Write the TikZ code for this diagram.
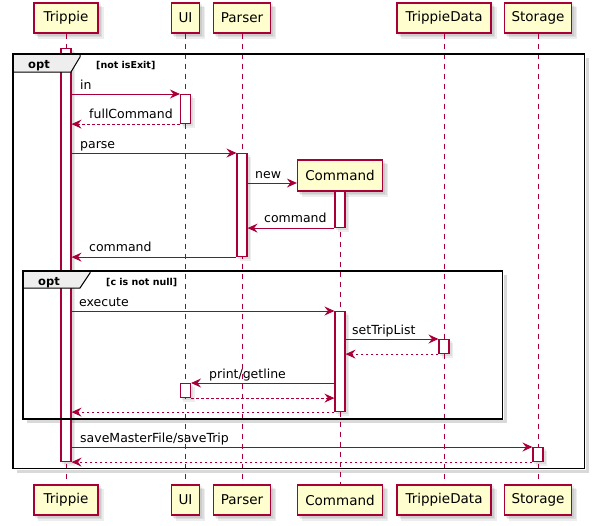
\documentclass[tikz,border=0pt]{standalone}
\usepackage{fontspec}
\setmainfont{DejaVu Sans}
\usetikzlibrary{arrows.meta,backgrounds}
\definecolor{pline}{HTML}{A80036}
\definecolor{pfill}{HTML}{FEFECE}
\definecolor{tabfill}{HTML}{EEEEEE}
\begin{document}
\begin{tikzpicture}[x=1pt,y=-1pt,
  part/.style={draw=pline, fill=pfill, line width=1.2pt, minimum height=30pt, inner sep=0pt,
    font=\fontsize{13.5}{16}\selectfont},
  life/.style={draw=pline, line width=0.8pt, dash pattern=on 5pt off 5pt},
  actbar/.style={draw=pline, fill=white, line width=1.1pt, minimum width=10pt, inner sep=0pt, anchor=north},
  msg/.style={draw=pline, line width=1pt, -{Stealth[length=10pt,width=9pt,inset=3.5pt]}},
  ret/.style={msg, dash pattern=on 2.5pt off 2.5pt},
  lbl/.style={font=\fontsize{12.5}{15}\selectfont, anchor=base west, inner sep=0pt},
  frm/.style={draw=black, line width=1.5pt},
  shd/.style={fill=black, opacity=0.07},
  frmshadow/.style={draw=black, opacity=0.15, line width=3pt},
  tab/.style={draw=black, line width=1pt, fill=tabfill},
  optlbl/.style={font=\bfseries\fontsize{11.5}{13}\selectfont, anchor=base west, inner sep=0pt},
  guard/.style={font=\bfseries\fontsize{9.5}{11}\selectfont, anchor=base west, inner sep=0pt},
]
\useasboundingbox (0,0) rectangle (594,525);

% frame shadows
\draw[frmshadow] (587.5,58) -- (587.5,471.5) -- (17,471.5);
\draw[frmshadow] (505.5,275) -- (505.5,421.5) -- (27,421.5);

% participants
\node[part, minimum width=64pt] (trT) at (66,18) {Trippie};
\node[part, minimum width=28pt] (uiT) at (185.5,18) {UI};
\node[part, minimum width=57pt] (paT) at (242,18) {Parser};
\node[part, minimum width=94pt] (tdT) at (444,18) {TrippieData};
\node[part, minimum width=67pt] (stT) at (538,18) {Storage};
\node[part, minimum width=85pt, minimum height=31pt] (cmT) at (340,175.5) {Command};

\node[part, minimum width=64pt] (trB) at (66,500) {Trippie};
\node[part, minimum width=28pt] (uiB) at (185.5,500) {UI};
\node[part, minimum width=57pt] (paB) at (242,500) {Parser};
\node[part, minimum width=85pt] (cmB) at (340,500) {Command};
\node[part, minimum width=94pt] (tdB) at (444,500) {TrippieData};
\node[part, minimum width=67pt] (stB) at (538,500) {Storage};

% lifelines
\draw[life] (trT.south) -- (trB.north);
\draw[life] (uiT.south) -- (uiB.north);
\draw[life] (paT.south) -- (paB.north);
\draw[life] (cmT.south) -- (cmB.north);
\draw[life] (tdT.south) -- (tdB.north);
\draw[life] (stT.south) -- (stB.north);

% activation bars
\node[actbar, minimum height=413pt] (trA) at (66,48) {};
\node[actbar, minimum height=29pt] (uiA1) at (185.5,94) {};
\node[actbar, minimum height=103pt] (paA) at (242,153) {};
\node[actbar, minimum height=36pt] (cmA1) at (340,191) {};
\node[actbar, minimum height=100pt] (cmA2) at (340,311) {};
\node[actbar, minimum height=14pt] (tdA) at (444,339) {};
\node[actbar, minimum height=14pt] (uiA2) at (185.5,383) {};
\node[actbar, minimum height=14pt] (stA) at (538,447) {};

% soft shadows behind boxes
\begin{scope}[on background layer]
  \foreach \n in {trT,uiT,paT,tdT,stT,cmT,trB,uiB,paB,cmB,tdB,stB}{
    \fill[shd] ([shift={(2pt,-2pt)}]\n.south west) rectangle ([shift={(2pt,-2pt)}]\n.north east);
    \fill[shd] ([shift={(3.5pt,-3.5pt)}]\n.south west) rectangle ([shift={(3.5pt,-3.5pt)}]\n.north east);
    \fill[shd] ([shift={(5pt,-5pt)}]\n.south west) rectangle ([shift={(5pt,-5pt)}]\n.north east);
  }
  \foreach \n in {trA,uiA1,paA,cmA1,cmA2,tdA,uiA2,stA}{
    \fill[shd] ([shift={(2pt,-2pt)}]\n.south west) rectangle ([shift={(2pt,-2pt)}]\n.north east);
    \fill[shd] ([shift={(3.5pt,-3.5pt)}]\n.south west) rectangle ([shift={(3.5pt,-3.5pt)}]\n.north east);
  }
\end{scope}

% frames
\draw[frm] (13,54) rectangle (584.5,468.5);
\draw[tab] (13,54) -- (80,54) -- (80,57) -- (71,72) -- (13,72) -- cycle;
\draw[frm] (13,54) rectangle (584.5,468.5);
\node[optlbl] (o1) at (28,68) {opt};
\node[guard] (g1) at (96,68) {[not isExit]};

\draw[frm] (23,271) rectangle (502.5,419);
\draw[tab] (23,271) -- (90,271) -- (90,273) -- (80,288) -- (23,288) -- cycle;
\draw[frm] (23,271) rectangle (502.5,419);
\node[optlbl] (o2) at (38,285) {opt};
\node[guard] (g2) at (106,285) {[c is not null]};

% messages
\draw[msg] (trA.east |- uiA1.north) -- (uiA1.north west);
\node[lbl] (l1) at (80,89) {in};
\draw[ret] (uiA1.south west) -- (trA.east |- uiA1.south);
\node[lbl] (l2) at (89,118.5) {fullCommand};
\draw[msg] (trA.east |- paA.north) -- (paA.north west);
\node[lbl] (l3) at (80,148) {parse};
\draw[msg] (paA.east |- 0,183) -- (cmT.west |- 0,183);
\node[lbl] (l4) at (255,178) {new};
\draw[msg] (cmA1.south west) -- (paA.east |- cmA1.south);
\node[lbl] (l5) at (264,222) {command};
\draw[msg] (paA.south west) -- (trA.east |- paA.south);
\node[lbl] (l6) at (89,251) {command};
\draw[msg] (trA.east |- cmA2.north) -- (cmA2.north west);
\node[lbl] (l7) at (79,306) {execute};
\draw[msg] (cmA2.east |- tdA.north) -- (tdA.north west);
\node[lbl] (l8) at (352,334) {setTripList};
\draw[ret] (tdA.south west) -- (cmA2.east |- tdA.south);
\draw[msg] (cmA2.west |- uiA2.north) -- (uiA2.north east);
\node[lbl] (l9) at (209,378) {print/getline};
\draw[ret] (uiA2.south east) -- (cmA2.west |- uiA2.south);
\draw[ret] (cmA2.south west) -- (trA.east |- cmA2.south);
\draw[msg] (trA.east |- stA.north) -- (stA.north west);
\node[lbl] (l10) at (80,442) {saveMasterFile/saveTrip};
\draw[ret] (stA.south west) -- (trA.east |- stA.south);
\end{tikzpicture}
\end{document}
